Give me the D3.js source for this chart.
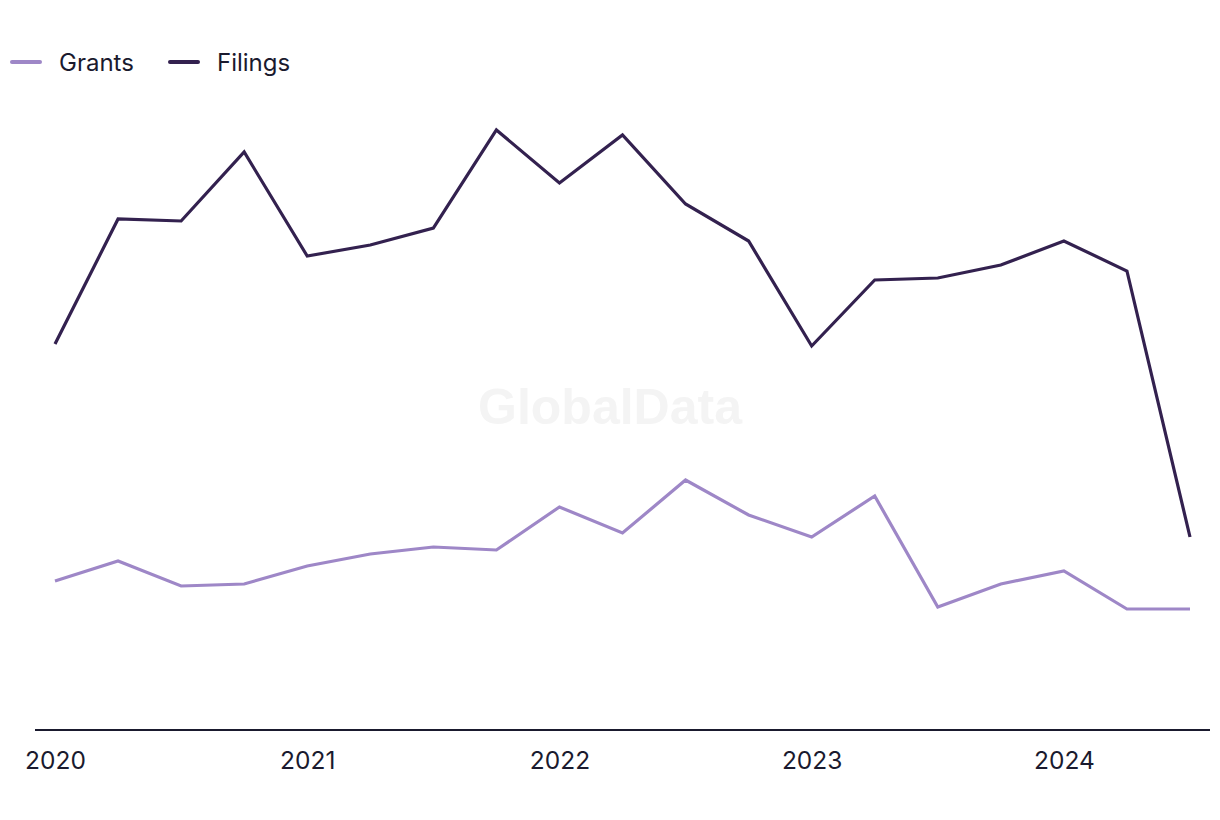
<!DOCTYPE html>
<html><head><meta charset="utf-8">
<script src="https://cdn.jsdelivr.net/npm/d3@7"></script>
<style>body{margin:0;background:#fff;}svg{display:block;font-family:Inter,"Open Sans",sans-serif;}</style>
</head><body><svg id="c" width="1220" height="820"></svg>
<script>
const quarters = ["2020Q1","2020Q2","2020Q3","2020Q4","2021Q1","2021Q2","2021Q3","2021Q4","2022Q1","2022Q2","2022Q3","2022Q4","2023Q1","2023Q2","2023Q3","2023Q4","2024Q1","2024Q2","2024Q3"];
const filings = [193,255.5,254.5,289,237,242.5,251,300,273.5,297.5,263,244.5,192,225,226,232.5,244.5,229.5,96.5];
const grants = [74.5,84.5,72,73,82,88,91.5,90,111.5,98.5,125,107.5,96.5,117,61.5,73,79.5,60.5,60.5];
const yearTicks = ["2020","2021","2022","2023","2024"];
const seriesNames = ["Grants","Filings"];
const colors = {Grants:"#9e87c7", Filings:"#33214f"};

const svg = d3.select("#c");
const toNum = q => +q.slice(0,4) + (+q.slice(5)-1)/4;
const x = d3.scaleLinear().domain([2020, 2024.5]).range([55, 1190]);
const y = d3.scaleLinear().domain([0, 350]).range([730, 30]);

// watermark
svg.append("text").attr("x",610).attr("y",411).attr("text-anchor","middle").attr("dominant-baseline","middle")
  .attr("font-family","Liberation Sans, Arial, sans-serif").attr("font-weight","bold").attr("font-size",50)
  .attr("fill","#f4f4f4").text("GlobalData");

// axis
const axis = d3.axisBottom(x).tickValues(yearTicks.map(Number)).tickFormat(d3.format("d")).tickSize(0).tickPadding(22);
const g = svg.append("g").attr("transform","translate(0,730)").call(axis);
g.select(".domain").attr("d","M35,0H1210").attr("stroke","#1a1a2e").attr("stroke-width",2);
g.selectAll("text").attr("font-size",24.5).attr("fill","#1a1a2e").attr("font-family","Inter, sans-serif");

const line = d3.line().x((d,i)=>x(toNum(quarters[i]))).y(d=>y(d));
svg.append("path").datum(grants).attr("d",line).attr("fill","none").attr("stroke",colors.Grants).attr("stroke-width",3.2).attr("stroke-linejoin","miter");
svg.append("path").datum(filings).attr("d",line).attr("fill","none").attr("stroke",colors.Filings).attr("stroke-width",3.2).attr("stroke-linejoin","miter");

// legend
const legendX = [10, 168];
seriesNames.forEach((n,i)=>{
  const lg = svg.append("g").attr("transform",`translate(${legendX[i]},62)`);
  lg.append("line").attr("x1",2).attr("x2",30).attr("y1",0).attr("y2",0).attr("stroke",colors[n]).attr("stroke-width",4).attr("stroke-linecap","round");
  lg.append("text").attr("x",49).attr("y",0).attr("dominant-baseline","central").attr("font-size",24).attr("fill","#1a1a2e").text(n);
});
</script></body></html>
